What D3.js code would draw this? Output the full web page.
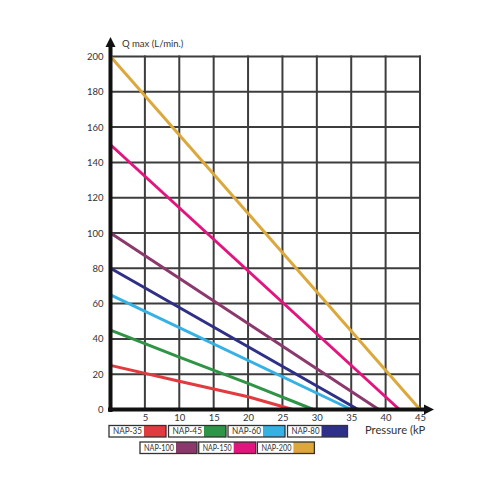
<!DOCTYPE html>
<html>
<head>
<meta charset="utf-8">
<script src="https://cdn.jsdelivr.net/npm/d3@7"></script>
<style>
  html, body { margin: 0; padding: 0; background: #fff; }
  svg { display: block; font-family: Lato, "Open Sans", sans-serif; }
</style>
</head>
<body>
<svg id="chart" width="500" height="500"></svg>
<script>
// ---- data ----
const seriesNames = ["NAP-35", "NAP-45", "NAP-60", "NAP-80", "NAP-100", "NAP-150", "NAP-200"];
const seriesColors = ["#e23b3f", "#2f9446", "#36b1e4", "#2e2f86", "#8b396c", "#e2157f", "#dca83b"];
const nap35 = [[0, 25], [10, 16], [20, 7.2], [26.5, 0]];
const nap45 = [[0, 45], [10, 29.7], [20, 14.8], [29.5, 0]];
const nap60 = [[0, 65], [35, 0]];
const nap80 = [[0, 80], [36, 0]];
const nap100 = [[0, 100], [39, 0]];
const nap150 = [[0, 150], [42, 0]];
const nap200 = [[0, 200], [45, 0]];
const seriesPoints = [nap35, nap45, nap60, nap80, nap100, nap150, nap200];
const xTicks = [5, 10, 15, 20, 25, 30, 35, 40, 45];
const yTicks = [0, 20, 40, 60, 80, 100, 120, 140, 160, 180, 200];
const xTitle = "Pressure (kP";
const yTitle = "Q max (L/min.)";

// ---- drawing ----
const svg = d3.select("#chart");
const x = d3.scaleLinear().domain([0, 45]).range([110.5, 420]);
const y = d3.scaleLinear().domain([0, 200]).range([409.5, 56.5]);

// grid
const grid = svg.append("g").attr("stroke", "#3d3d3d").attr("stroke-width", 2);
grid.selectAll("line.v").data(xTicks).join("line")
  .attr("x1", d => x(d)).attr("x2", d => x(d))
  .attr("y1", y(0)).attr("y2", y(200) - 1);
grid.selectAll("line.h").data(yTicks.filter(d => d > 0)).join("line")
  .attr("x1", x(0)).attr("x2", x(45) + 1)
  .attr("y1", d => y(d)).attr("y2", d => y(d));

// series lines
const line = d3.line().x(d => x(d[0])).y(d => y(d[1]));
svg.append("g").selectAll("path").data(seriesPoints).join("path")
  .attr("d", line)
  .attr("fill", "none")
  .attr("stroke", (d, i) => seriesColors[i])
  .attr("stroke-width", 3)
  .attr("stroke-linecap", "butt");

// axes lines with arrows
const axisColor = "#111";
svg.append("line")
  .attr("x1", x(0)).attr("x2", x(0))
  .attr("y1", y(0) + 2.5).attr("y2", 44)
  .attr("stroke", axisColor).attr("stroke-width", 4);
svg.append("path")
  .attr("d", `M${x(0)},37 L${x(0) - 5},47 L${x(0) + 5},47 Z`)
  .attr("fill", axisColor);
svg.append("line")
  .attr("x1", x(0) - 2.5).attr("x2", 426)
  .attr("y1", y(0)).attr("y2", y(0))
  .attr("stroke", axisColor).attr("stroke-width", 4);
svg.append("path")
  .attr("d", `M434,${y(0)} L424,${y(0) - 5} L424,${y(0) + 5} Z`)
  .attr("fill", axisColor);

// tick labels via axes
const xAxis = svg.append("g").attr("transform", `translate(0,${y(0)})`)
  .call(d3.axisBottom(x).tickValues(xTicks).tickSize(0).tickPadding(5).tickFormat(d3.format("d")));
xAxis.select(".domain").remove();
xAxis.selectAll("text").attr("fill", "#333").attr("font-size", 9.5).attr("font-family", "Lato, sans-serif");

const yAxis = svg.append("g").attr("transform", `translate(${x(0)},0)`)
  .call(d3.axisLeft(y).tickValues(yTicks).tickSize(0).tickPadding(7).tickFormat(d3.format("d")));
yAxis.select(".domain").remove();
yAxis.selectAll("text").attr("fill", "#333").attr("font-size", 9.5).attr("font-family", "Lato, sans-serif");

// titles
svg.append("text").attr("x", 122).attr("y", 47)
  .attr("font-size", 9.5).attr("fill", "#333").text(yTitle);
svg.append("text").attr("x", 365).attr("y", 434)
  .attr("font-size", 11.2).attr("fill", "#333").text(xTitle);

// legend
const legendRows = [[0, 1, 2, 3], [4, 5, 6]];
const rowX0 = [109, 140];
const rowStep = [59.5, 58.7];
const rowY = [425.5, 442];
const itemW = [[57, 57.5, 57, 60], [57, 57, 57]];
const swatchW = [[22, 22, 22, 26], [21, 22, 21]];
const itemH = 11.5;
legendRows.forEach((row, r) => {
  row.forEach((si, k) => {
    const gx = rowX0[r] + k * rowStep[r];
    const w = itemW[r][k], sw = swatchW[r][k];
    const g = svg.append("g").attr("transform", `translate(${gx},${rowY[r]})`);
    g.append("rect").attr("x", 0).attr("y", 0).attr("width", w).attr("height", itemH).attr("fill", "#fff");
    g.append("rect").attr("x", w - sw).attr("y", 0)
      .attr("width", sw).attr("height", itemH).attr("fill", seriesColors[si]);
    g.append("rect").attr("x", 0).attr("y", 0).attr("width", w).attr("height", itemH)
      .attr("fill", "none").attr("stroke", "#333").attr("stroke-width", 1.3);
    const t = g.append("text").attr("x", 4).attr("y", itemH / 2).attr("dy", "0.35em")
      .attr("font-size", 9).attr("fill", "#333").text(seriesNames[si]);
    const avail = w - sw - 6;
    const natural = t.node().getComputedTextLength();
    if (natural > avail) {
      t.attr("textLength", avail).attr("lengthAdjust", "spacingAndGlyphs");
    }
  });
});
</script>
</body>
</html>
